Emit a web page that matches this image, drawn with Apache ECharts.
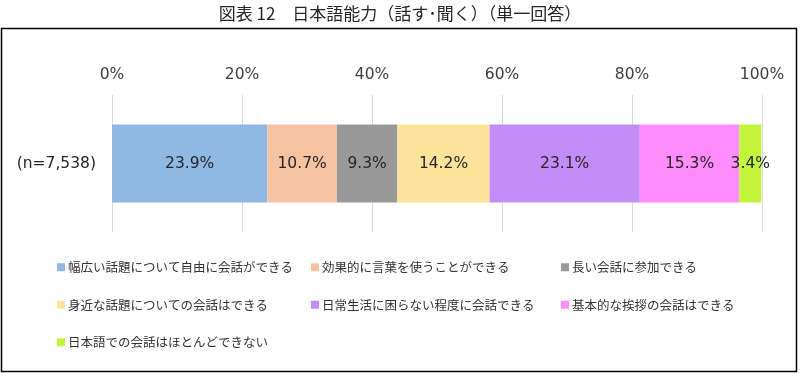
<!DOCTYPE html>
<html><head><meta charset="utf-8">
<script src="https://cdn.jsdelivr.net/npm/echarts@6/dist/echarts.min.js"></script>
<style>html,body{margin:0;padding:0;background:#fff}#c{width:800px;height:373px}</style>
</head><body><div id="c"></div>
<script>
const titleText = '図表 12　日本語能力（話す･聞く）（単一回答）';
const categories = ['(n=7,538)'];
const seriesNames = [
  '幅広い話題について自由に会話ができる',
  '効果的に言葉を使うことができる',
  '長い会話に参加できる',
  '身近な話題についての会話はできる',
  '日常生活に困らない程度に会話できる',
  '基本的な挨拶の会話はできる',
  '日本語での会話はほとんどできない'
];
const values = [23.9, 10.7, 9.3, 14.2, 23.1, 15.3, 3.4];
const colors = ['#8FB8E2', '#F5C3A2', '#999999', '#FDE29A', '#C48CF7', '#FF8CFB', '#C3F53C'];
const tickValues = [0, 20, 40, 60, 80, 100];

const font = '"Noto Sans CJK JP", "Noto Sans", sans-serif';
const latin = '"DejaVu Sans", "Noto Sans CJK JP", sans-serif';
const chart = echarts.init(document.getElementById('c'));
const series = seriesNames.map((n, i) => ({
  name: n, type: 'bar', stack: 'total', barWidth: 78,
  data: [values[i]],
  itemStyle: { color: colors[i] },
  label: { show: true, position: 'inside', formatter: p => p.value.toFixed(1) + '%',
    color: '#262626', fontSize: 15.5, fontFamily: latin }
}));
const legendBase = {
  orient: 'vertical', top: 256, itemWidth: 8, itemHeight: 8, itemGap: 25,
  icon: 'rect', textStyle: { fontSize: 12.5, color: '#333', fontFamily: font, padding: [0,0,0,-2] },
  selectedMode: false
};
chart.setOption({
  animation: false,
  color: colors,
  title: { text: titleText, left: 'center', top: 0,
    textStyle: { fontSize: 17, fontWeight: 'normal', color: '#262626', fontFamily: font } },
  graphic: [{ type: 'rect', shape: { x: 1.5, y: 28.5, width: 795, height: 343 },
    style: { fill: 'none', stroke: '#000', lineWidth: 1.5 } }],
  grid: { left: 112, right: 38, top: 95, height: 137 },
  xAxis: { type: 'value', position: 'top', min: 0, max: 100, interval: 20,
    axisLine: { show: false }, axisTick: { show: false },
    axisLabel: { formatter: v => v + '%', fontSize: 15.5, color: '#404040', fontFamily: latin, margin: 12 },
    splitLine: { lineStyle: { color: '#d9d9d9' } } },
  yAxis: { type: 'category', data: categories,
    axisLine: { show: false }, axisTick: { show: false },
    axisLabel: { fontSize: 15.5, color: '#262626', fontFamily: latin, margin: 16 } },
  legend: [
    Object.assign({}, legendBase, { left: 52, data: [seriesNames[0], seriesNames[3], seriesNames[6]] }),
    Object.assign({}, legendBase, { left: 306, data: [seriesNames[1], seriesNames[4]] }),
    Object.assign({}, legendBase, { left: 556, data: [seriesNames[2], seriesNames[5]] })
  ],
  series: series
});
</script></body></html>
